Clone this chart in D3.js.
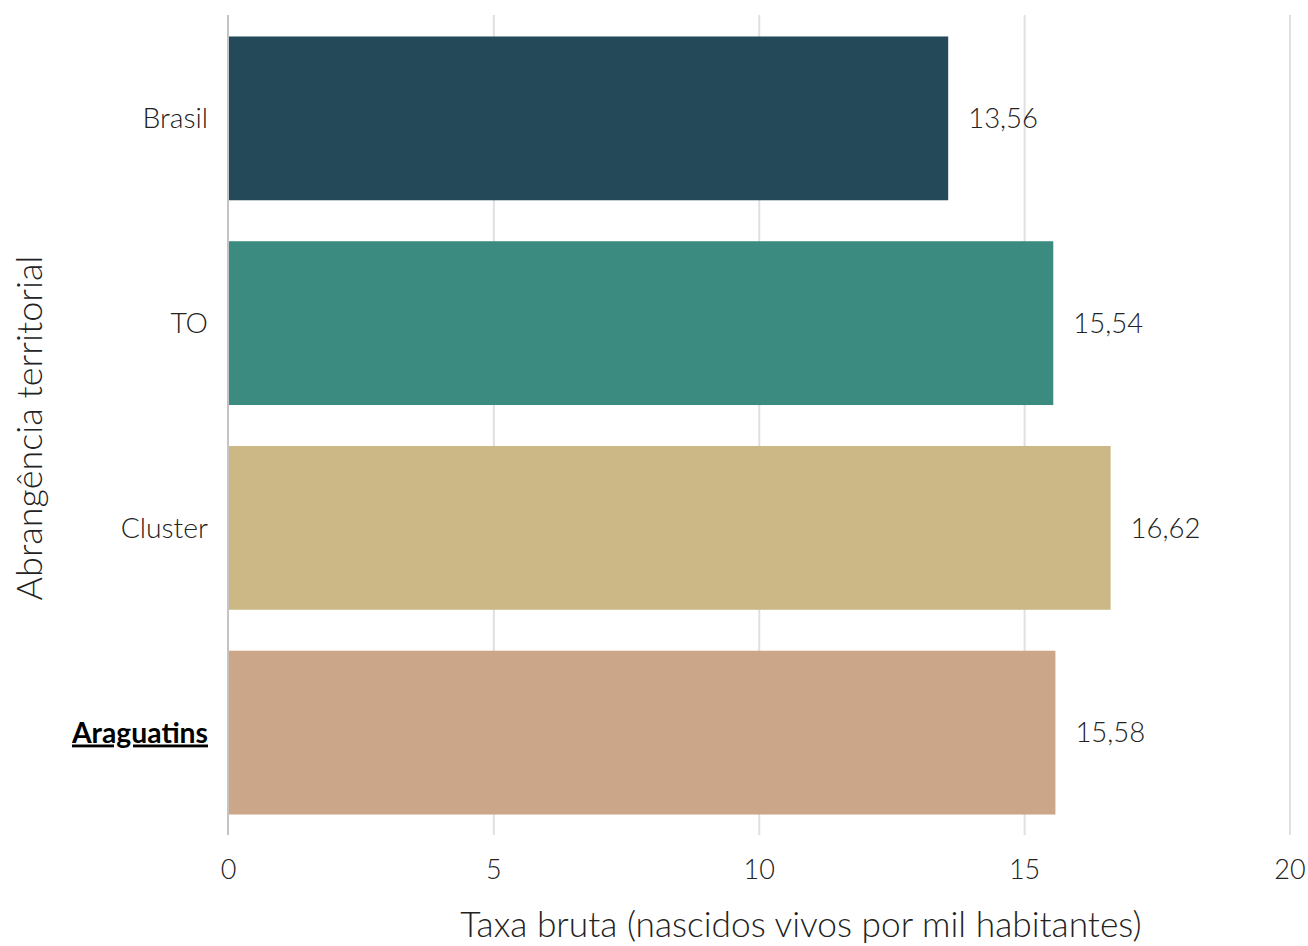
<!DOCTYPE html>
<html><head><meta charset="utf-8">
<script src="https://cdn.jsdelivr.net/npm/d3@7"></script>
<style>
body{margin:0;background:#fff;}
text{font-family:Lato,"Open Sans",sans-serif;font-weight:300;fill:#222;}
</style></head>
<body>
<svg id="chart" width="1308" height="946"></svg>
<script>
const categories = ["Brasil", "TO", "Cluster", "Araguatins"];
const values = [13.56, 15.54, 16.62, 15.58];
const colors = ["#244a59", "#3c8b81", "#cbb886", "#cba688"];
const xTicks = [0, 5, 10, 15, 20];
const highlight = "Araguatins";
const xTitle = "Taxa bruta (nascidos vivos por mil habitantes)";
const yTitle = "Abrangência territorial";

const svg = d3.select("#chart");
const x = d3.scaleLinear().domain([0, 20]).range([228.5, 1290]);
const y = d3.scaleBand().domain(categories).range([16, 835]).paddingInner(0.2).paddingOuter(0.1);
const fmt = v => d3.format(".2f")(v).replace(".", ",");

// gridlines
svg.append("g").selectAll("line").data(xTicks.filter(t => t !== 0)).join("line")
  .attr("x1", d => x(d)).attr("x2", d => x(d)).attr("y1", 15).attr("y2", 835)
  .attr("stroke", "#e0e0e0").attr("stroke-width", 2);
// axis line at 0
svg.append("line").attr("x1", 228).attr("x2", 228).attr("y1", 15).attr("y2", 835)
  .attr("stroke", "#c4c4c4").attr("stroke-width", 2);

// bars
svg.append("g").selectAll("rect").data(categories).join("rect")
  .attr("x", 229).attr("y", d => y(d))
  .attr("width", (d, i) => x(values[i]) - 229).attr("height", y.bandwidth())
  .attr("fill", (d, i) => colors[i]);

// value labels
svg.append("g").selectAll("text").data(categories).join("text")
  .attr("x", (d, i) => x(values[i]) + 20).attr("y", d => y(d) + y.bandwidth() / 2)
  .attr("dy", "0.35em").attr("font-size", 27.5).text((d, i) => fmt(values[i]));

// category labels
svg.append("g").selectAll("text").data(categories).join("text")
  .attr("x", 208).attr("y", d => y(d) + y.bandwidth() / 2)
  .attr("dy", "0.35em").attr("text-anchor", "end").attr("font-size", 28.3)
  .style("font-weight", d => d === highlight ? 700 : 300)
  .style("fill", d => d === highlight ? "#000" : "#222")
  .style("text-decoration", d => d === highlight ? "underline" : "none")
  .text(d => d);

// x ticks
svg.append("g").selectAll("text").data(xTicks).join("text")
  .attr("x", d => x(d)).attr("y", 870).attr("dy", "0.35em")
  .attr("text-anchor", "middle").attr("font-size", 27).text(d => d);

// axis titles
svg.append("text").attr("x", 801).attr("y", 925).attr("dy", "0.35em")
  .attr("text-anchor", "middle").attr("font-size", 35.3).text(xTitle);
svg.append("text").attr("transform", `translate(29,428) rotate(-90)`)
  .attr("dy", "0.35em").attr("text-anchor", "middle").attr("font-size", 36).text(yTitle);
</script>
</body></html>
